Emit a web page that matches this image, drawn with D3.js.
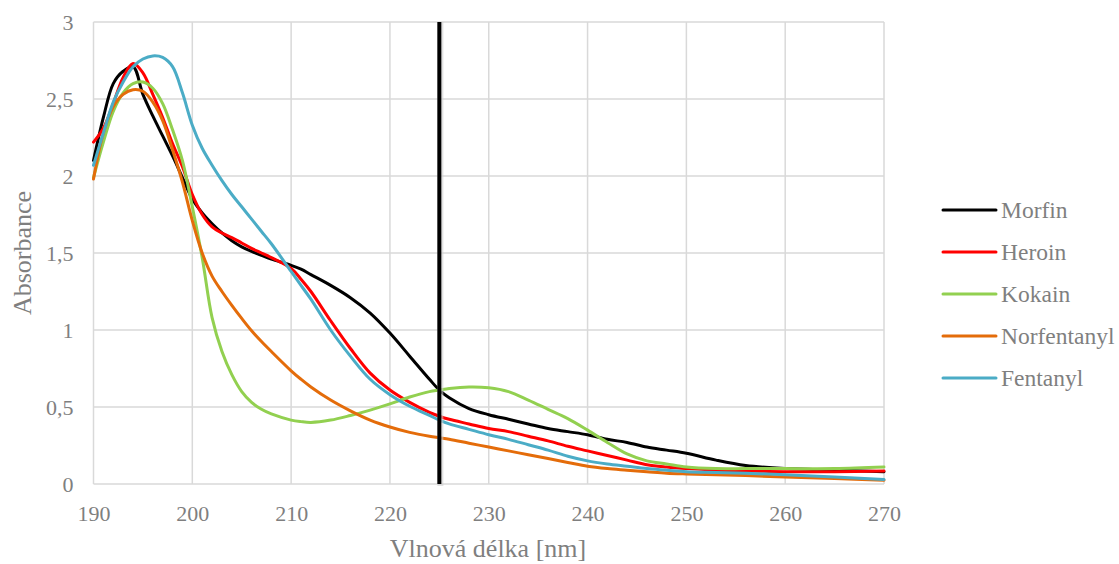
<!DOCTYPE html>
<html>
<head>
<meta charset="utf-8">
<script src="https://cdn.jsdelivr.net/npm/d3@7"></script>
<style>
  html, body { margin: 0; padding: 0; background: #fff; }
  svg { display: block; }
  text { font-family: "Liberation Serif", "Times New Roman", serif; fill: #7f7f7f; }
</style>
</head>
<body>
<svg id="chart" width="1119" height="564"></svg>
<script>
const wavelengths = [190,191,192,193,194,195,196,197,198,199,200,201,202,203,204,205,206,207,208,210,211,212,214,216,218,220,222,224,225,226,228,230,232,234,236,238,240,242,244,246,248,250,253,256,260,265,270];

const morfin = [2.10,2.38,2.60,2.68,2.71,2.53,2.39,2.26,2.13,1.99,1.85,1.76,1.69,1.63,1.58,1.54,1.51,1.485,1.46,1.42,1.395,1.36,1.29,1.21,1.11,0.98,0.83,0.68,0.61,0.56,0.49,0.45,0.42,0.39,0.36,0.34,0.32,0.29,0.27,0.24,0.22,0.20,0.155,0.12,0.10,0.09,0.08];
const heroin = [2.22,2.31,2.47,2.64,2.73,2.67,2.53,2.38,2.21,2.06,1.88,1.75,1.67,1.63,1.60,1.565,1.53,1.50,1.47,1.40,1.33,1.25,1.06,0.88,0.72,0.61,0.53,0.465,0.44,0.42,0.39,0.36,0.34,0.31,0.28,0.245,0.215,0.185,0.155,0.125,0.11,0.10,0.09,0.085,0.08,0.08,0.085];
const kokain = [1.99,2.22,2.42,2.54,2.60,2.61,2.57,2.47,2.30,2.10,1.80,1.47,1.08,0.86,0.71,0.60,0.53,0.485,0.455,0.415,0.405,0.40,0.415,0.445,0.48,0.52,0.565,0.60,0.61,0.62,0.63,0.625,0.60,0.545,0.485,0.425,0.35,0.27,0.195,0.15,0.13,0.11,0.10,0.10,0.10,0.10,0.11];
const norfentanyl = [1.98,2.28,2.45,2.53,2.56,2.55,2.48,2.36,2.17,1.96,1.71,1.50,1.35,1.25,1.16,1.075,0.995,0.925,0.86,0.735,0.68,0.63,0.545,0.475,0.415,0.37,0.335,0.31,0.30,0.29,0.265,0.24,0.215,0.19,0.165,0.14,0.115,0.10,0.09,0.08,0.07,0.065,0.06,0.055,0.045,0.035,0.025];
const fentanyl = [2.07,2.28,2.48,2.61,2.71,2.76,2.78,2.77,2.71,2.54,2.33,2.18,2.07,1.97,1.88,1.80,1.72,1.64,1.56,1.38,1.29,1.20,1.00,0.83,0.68,0.58,0.505,0.445,0.415,0.39,0.355,0.32,0.29,0.255,0.22,0.18,0.15,0.13,0.115,0.10,0.09,0.08,0.075,0.07,0.06,0.045,0.03];

const seriesNames = ["Morfin","Heroin","Kokain","Norfentanyl","Fentanyl"];
const seriesColors = ["#000000","#ff0000","#92d050","#e46c0a","#4bacc6"];
const xTicks = [190,200,210,220,230,240,250,260,270];
const yTicks = [0,0.5,1,1.5,2,2.5,3];
const markerWavelength = 225;
const xTitle = "Vlnová délka [nm]";
const yTitle = "Absorbance";

const seriesValues = [morfin, heroin, kokain, norfentanyl, fentanyl];

(function () {
const svg = d3.select("#chart");
const pL = 93.5, pR = 884, pT = 22, pB = 484;
const serif = '"Liberation Serif", "Times New Roman", serif';

const x = d3.scaleLinear().domain([190,270]).range([pL,pR]);
const y = d3.scaleLinear().domain([0,3]).range([pB,pT]);

// grid
const grid = svg.append("g");
grid.selectAll("line.v").data(xTicks).enter().append("line")
  .attr("x1", d => x(d)).attr("x2", d => x(d))
  .attr("y1", pT).attr("y2", pB)
  .attr("stroke", "#d9d9d9").attr("stroke-width", 1.5);
grid.selectAll("line.h").data(yTicks).enter().append("line")
  .attr("x1", pL).attr("x2", pR)
  .attr("y1", d => y(d)).attr("y2", d => y(d))
  .attr("stroke", "#d9d9d9").attr("stroke-width", 1.5);

const fmt = d => String(d).replace(".", ",");
const xAxis = svg.append("g").attr("transform", `translate(0,${pB})`)
  .attr("font-family", serif)
  .call(d3.axisBottom(x).tickValues(xTicks).tickSize(0).tickPadding(0).tickFormat(d => d));
xAxis.attr("font-family", serif);
xAxis.select(".domain").remove();
xAxis.selectAll("text").attr("font-size", 22).attr("dy", null).attr("y", 37)
  .style("font-family", serif).attr("fill", "#7f7f7f");

const yAxis = svg.append("g").attr("transform", `translate(${pL},0)`)
  .call(d3.axisLeft(y).tickValues(yTicks).tickSize(0).tickPadding(0).tickFormat(fmt));
yAxis.attr("font-family", serif);
yAxis.select(".domain").remove();
yAxis.selectAll("text").attr("font-size", 22).attr("x", -20).attr("dy", "0.33em")
  .style("font-family", serif).attr("fill", "#7f7f7f");

// series lines
const line = d3.line().x((d,i) => x(wavelengths[i])).y(d => y(d)).curve(d3.curveCatmullRom.alpha(0.5));
seriesValues.forEach((vals, k) => {
  svg.append("path").datum(vals)
    .attr("d", line).attr("fill", "none")
    .attr("stroke", seriesColors[k]).attr("stroke-width", 3)
    .attr("stroke-linejoin", "round").attr("stroke-linecap", "round");
});

// vertical marker
svg.append("line")
  .attr("x1", x(markerWavelength)+1).attr("x2", x(markerWavelength)+1)
  .attr("y1", pT).attr("y2", pB+2)
  .attr("stroke", "#cfcfcf").attr("stroke-width", 6).attr("opacity", 0.6);
svg.append("line")
  .attr("x1", x(markerWavelength)).attr("x2", x(markerWavelength))
  .attr("y1", pT).attr("y2", pB)
  .attr("stroke", "#000").attr("stroke-width", 4);

// titles
svg.append("text").attr("x", 488).attr("y", 557)
  .attr("text-anchor", "middle").attr("font-size", 26).style("font-family", serif).text(xTitle);
svg.append("text").attr("transform", `translate(31,${(pT+pB)/2}) rotate(-90)`)
  .attr("text-anchor", "middle").attr("font-size", 26).style("font-family", serif).text(yTitle);

// legend
const legendY = [210, 252, 294, 336, 378];
const lg = svg.append("g");
seriesNames.forEach((name, k) => {
  lg.append("line").attr("x1", 943).attr("x2", 996)
    .attr("y1", legendY[k]).attr("y2", legendY[k])
    .attr("stroke", seriesColors[k]).attr("stroke-width", 3).attr("stroke-linecap", "round");
  lg.append("text").attr("x", 1001).attr("y", legendY[k]).attr("dy", "0.33em")
    .attr("font-size", 23.5).style("font-family", serif).text(name);
});
})();
</script>
</body>
</html>
